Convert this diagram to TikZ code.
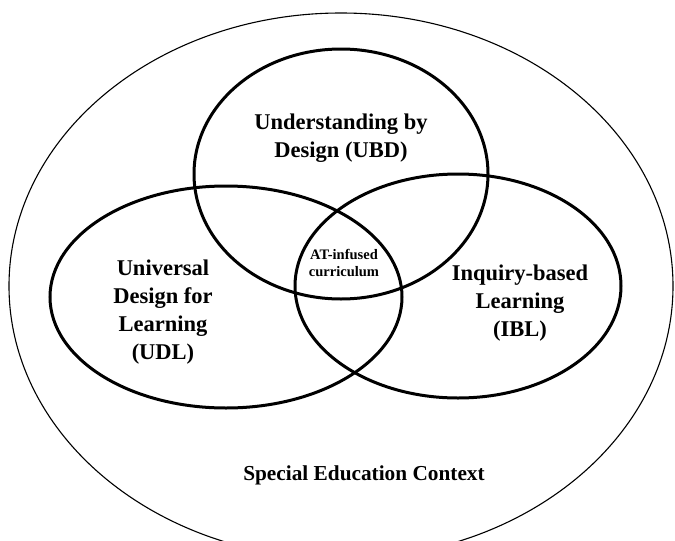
\documentclass[tikz,border=0pt]{standalone}
\usepackage{fontspec}
\setmainfont{Liberation Serif}
\begin{document}
\begin{tikzpicture}[x=1pt,y=-1pt,
  venn/.style={draw=black,line width=3pt},
  outer/.style={draw=black,line width=1.1pt},
  biglabel/.style={font=\bfseries\fontsize{22.5}{28}\selectfont,align=center,inner sep=0pt},
  smalllabel/.style={font=\bfseries\fontsize{14.5}{17.6}\selectfont,align=center,inner sep=0pt},
  ctxlabel/.style={font=\bfseries\fontsize{21.3}{26}\selectfont,align=center,inner sep=0pt}]
\useasboundingbox (0,0) rectangle (675,541);
\clip (0,0) rectangle (675,541);
\fill[white] (0,0) rectangle (675,541);
% outer context
\draw[outer] (341,286) ellipse [x radius=332pt, y radius=273pt];
% three sets
\draw[venn] (341,174) ellipse [x radius=147pt, y radius=125pt];
\draw[venn] (226,297) ellipse [x radius=176pt, y radius=111pt];
\draw[venn] (458,286) ellipse [x radius=163pt, y radius=112pt];
% labels
\node[biglabel] (ubd) at (341,138) {Understanding by\\Design (UBD)};
\node[biglabel] (udl) at (163,312) {Universal\\Design for\\Learning\\(UDL)};
\node[biglabel] (ibl) at (520,303) {Inquiry-based\\Learning\\(IBL)};
\node[smalllabel] (at) at (344,263) {AT-infused\\curriculum};
\node[ctxlabel] (ctx) at (364,475) {Special Education Context};
\end{tikzpicture}
\end{document}
